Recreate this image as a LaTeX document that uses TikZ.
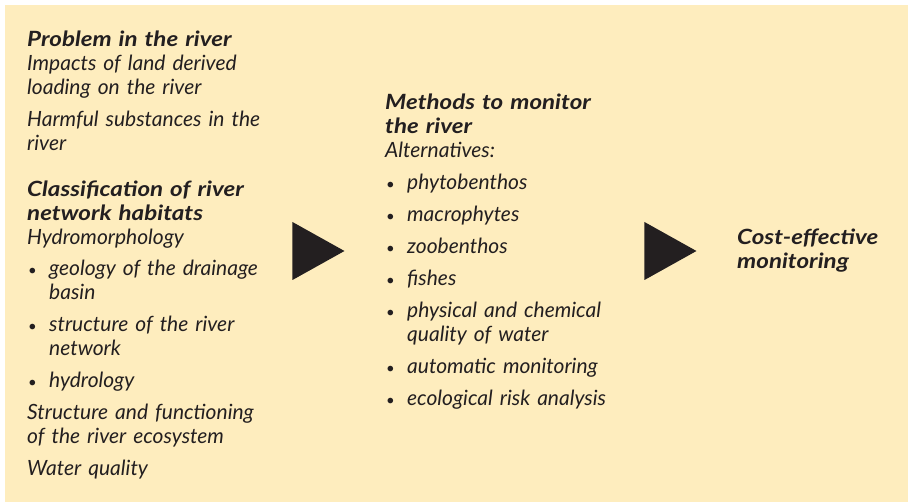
\documentclass[tikz,border=0pt]{standalone}
\usepackage{fontspec}
\setmainfont{Lato}
\newfontfamily\headfont{Lato}[FakeStretch=1.15]
\usetikzlibrary{shapes.geometric}
\definecolor{boxyellow}{HTML}{FEEDBE}
\definecolor{inkdark}{HTML}{231F20}
\newcommand{\itm}[1]{\makebox[22pt][l]{\hspace*{1pt}{\fontsize{15}{15}\selectfont\textbullet}}#1}
\newcommand{\cont}{\hspace*{22pt}}
\newcommand{\hd}[1]{{\headfont\bfseries\itshape #1}}

\begin{document}
\begin{tikzpicture}[x=1pt,y=-1pt]
  \tikzstyle{txt}=[anchor=base west,align=left,inner sep=0,text=inkdark,font=\fontsize{21}{24}\selectfont\itshape]
  \tikzstyle{pointer}=[isosceles triangle,isosceles triangle stretches,fill=inkdark,inner sep=0,minimum width=58pt,minimum height=52pt,anchor=apex]

  \useasboundingbox (0,0) rectangle (908,502);
  \fill[boxyellow] (5,5) rectangle (908,502);

  % left column
  \node[txt,text width=260pt] (problem) at (27,47) {\hd{Problem in the river}\\Impacts of land derived\\loading on the river\\[8pt]Harmful substances in the\\river};
  \node[txt,text width=260pt] (habitats) at (27,197) {\hd{Classification of river}\\\hd{network habitats}\\Hydromorphology\\[7pt]\itm{geology of the drainage}\\\cont basin\\[8pt]\itm{structure of the river}\\\cont network\\[8pt]\itm{hydrology}\\[8pt]Structure and functioning\\of the river ecosystem\\[8pt]Water quality};

  % middle column
  \node[txt,text width=250pt] (methods) at (385,110) {\hd{Methods to monitor}\\\hd{the river}\\Alternatives:\\[8pt]\itm{phytobenthos}\\[8pt]\itm{macrophytes}\\[8pt]\itm{zoobenthos}\\[8pt]\itm{fishes}\\[8pt]\itm{physical and chemical}\\\cont quality of water\\[8pt]\itm{automatic monitoring}\\[8pt]\itm{ecological risk analysis}};

  % right column
  \node[txt,text width=165pt] (result) at (737,245) {\hd{Cost-effective}\\\hd{monitoring}};

  % arrows between the columns
  \node[pointer] (arrowA) at (345,251) {};
  \node[pointer] (arrowB) at (697,251) {};
\end{tikzpicture}
\end{document}
